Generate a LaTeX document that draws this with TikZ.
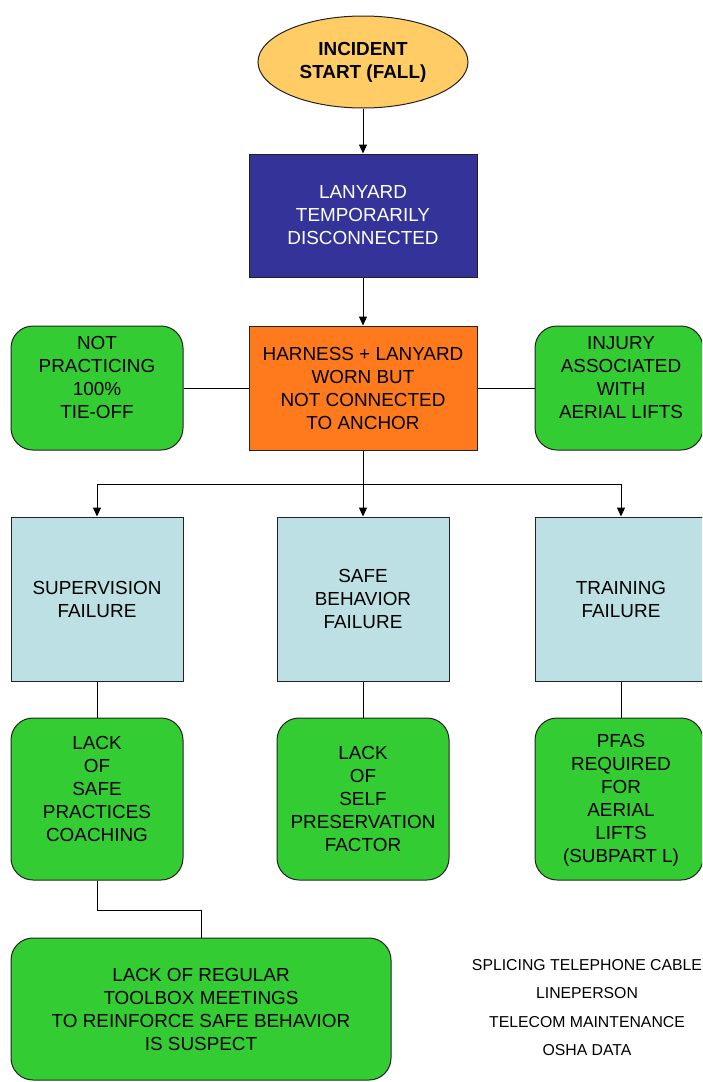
\documentclass[tikz,border=0pt]{standalone}
\usepackage{fontspec}
\setmainfont{Liberation Sans}
\usetikzlibrary{shapes.geometric,arrows.meta}
\definecolor{startfill}{HTML}{FFCC66}
\definecolor{navyfill}{HTML}{333399}
\definecolor{orangefill}{HTML}{FF7A1C}
\definecolor{greenfill}{HTML}{33CC33}
\definecolor{paleblue}{HTML}{BCE0E3}
\definecolor{edge}{HTML}{222222}
\begin{document}
\begin{tikzpicture}[x=1pt,y=-1pt,
  every node/.style={font=\fontsize{18.9}{23}\selectfont, align=center, inner sep=0pt},
  box/.style={draw=edge, line width=1pt, rectangle},
  rbox/.style={draw=edge, line width=1pt, rectangle, rounded corners=22pt, fill=greenfill},
  cause/.style={box, fill=paleblue, minimum width=172pt, minimum height=164pt},
  link/.style={line width=1pt, draw=black},
  arr/.style={link, -{Triangle[length=9pt,width=8pt]}}
]
\useasboundingbox (0,0) rectangle (702,1082);
\clip (0,0) rectangle (702,1082);

% top of the chain
\node[ellipse, draw=edge, line width=1pt, fill=startfill, minimum width=210pt, minimum height=92pt]
  (start) at (363,62) {\bfseries INCIDENT\\\bfseries START (FALL)};
\node[box, fill=navyfill, text=white, minimum width=228pt, minimum height=123pt]
  (lanyard) at (363,215.5) {LANYARD\\TEMPORARILY\\DISCONNECTED};
\node[box, fill=orangefill, minimum width=228pt, minimum height=124pt]
  (harness) at (363,388) {HARNESS + LANYARD\\WORN BUT\\NOT CONNECTED\\TO ANCHOR};

% side conditions
\node[rbox, minimum width=172pt, minimum height=124pt] (tieoff) at (97,388) {};
\node at (97,377.5) {NOT\\PRACTICING\\100\%\\TIE-OFF};
\node[rbox, minimum width=168pt, minimum height=124pt] (aerial) at (619,388) {};
\node at (621,377.5) {INJURY\\ASSOCIATED\\WITH\\AERIAL LIFTS};

% failure categories
\node[cause] (superv) at (97,599) {SUPERVISION\\FAILURE};
\node[cause] (behav) at (363,599) {SAFE\\BEHAVIOR\\FAILURE};
\node[cause, minimum width=168pt] (train) at (619,599) {};
\node at (621,599.5) {TRAINING\\FAILURE};

% contributing factors
\node[rbox, minimum width=172pt, minimum height=162pt] (coach) at (97,799) {};
\node at (97,789) {LACK\\OF\\SAFE\\PRACTICES\\COACHING};
\node[rbox, minimum width=172pt, minimum height=162pt] (selfp) at (363,799) {LACK\\OF\\SELF\\PRESERVATION\\FACTOR};
\node[rbox, minimum width=168pt, minimum height=162pt] (pfas) at (619,799) {};
\node at (621,800.5) {PFAS\\REQUIRED\\FOR\\AERIAL\\LIFTS\\(SUBPART L)};
\node[rbox, minimum width=380pt, minimum height=142pt] (toolbox) at (201,1009)
  {LACK OF REGULAR\\TOOLBOX MEETINGS\\TO REINFORCE SAFE BEHAVIOR\\IS SUSPECT};

% source notes
\node[font=\fontsize{15.8}{28.5}\selectfont] (notes) at (587,1007.5)
  {SPLICING TELEPHONE CABLE\\LINEPERSON\\TELECOM MAINTENANCE\\OSHA DATA};

% connectors
\draw[arr] (start) -- (lanyard);
\draw[arr] (lanyard) -- (harness);
\draw[link] (tieoff) -- (harness);
\draw[link] (aerial) -- (harness);
\draw[link] (harness.south) -- ++(0,34) coordinate (fork);
\draw[arr] (fork) -| (superv.north);
\draw[arr] (fork) -| ([xshift=2pt]train.north);
\draw[arr] (fork) -- (behav.north);
\draw[link] (superv) -- (coach);
\draw[link] (behav) -- (selfp);
\draw[link] ([xshift=2pt]train.south) -- ([xshift=2pt]pfas.north);
\draw[link] (coach.south) -- ++(0,30) -| (toolbox.north);
\end{tikzpicture}
\end{document}
